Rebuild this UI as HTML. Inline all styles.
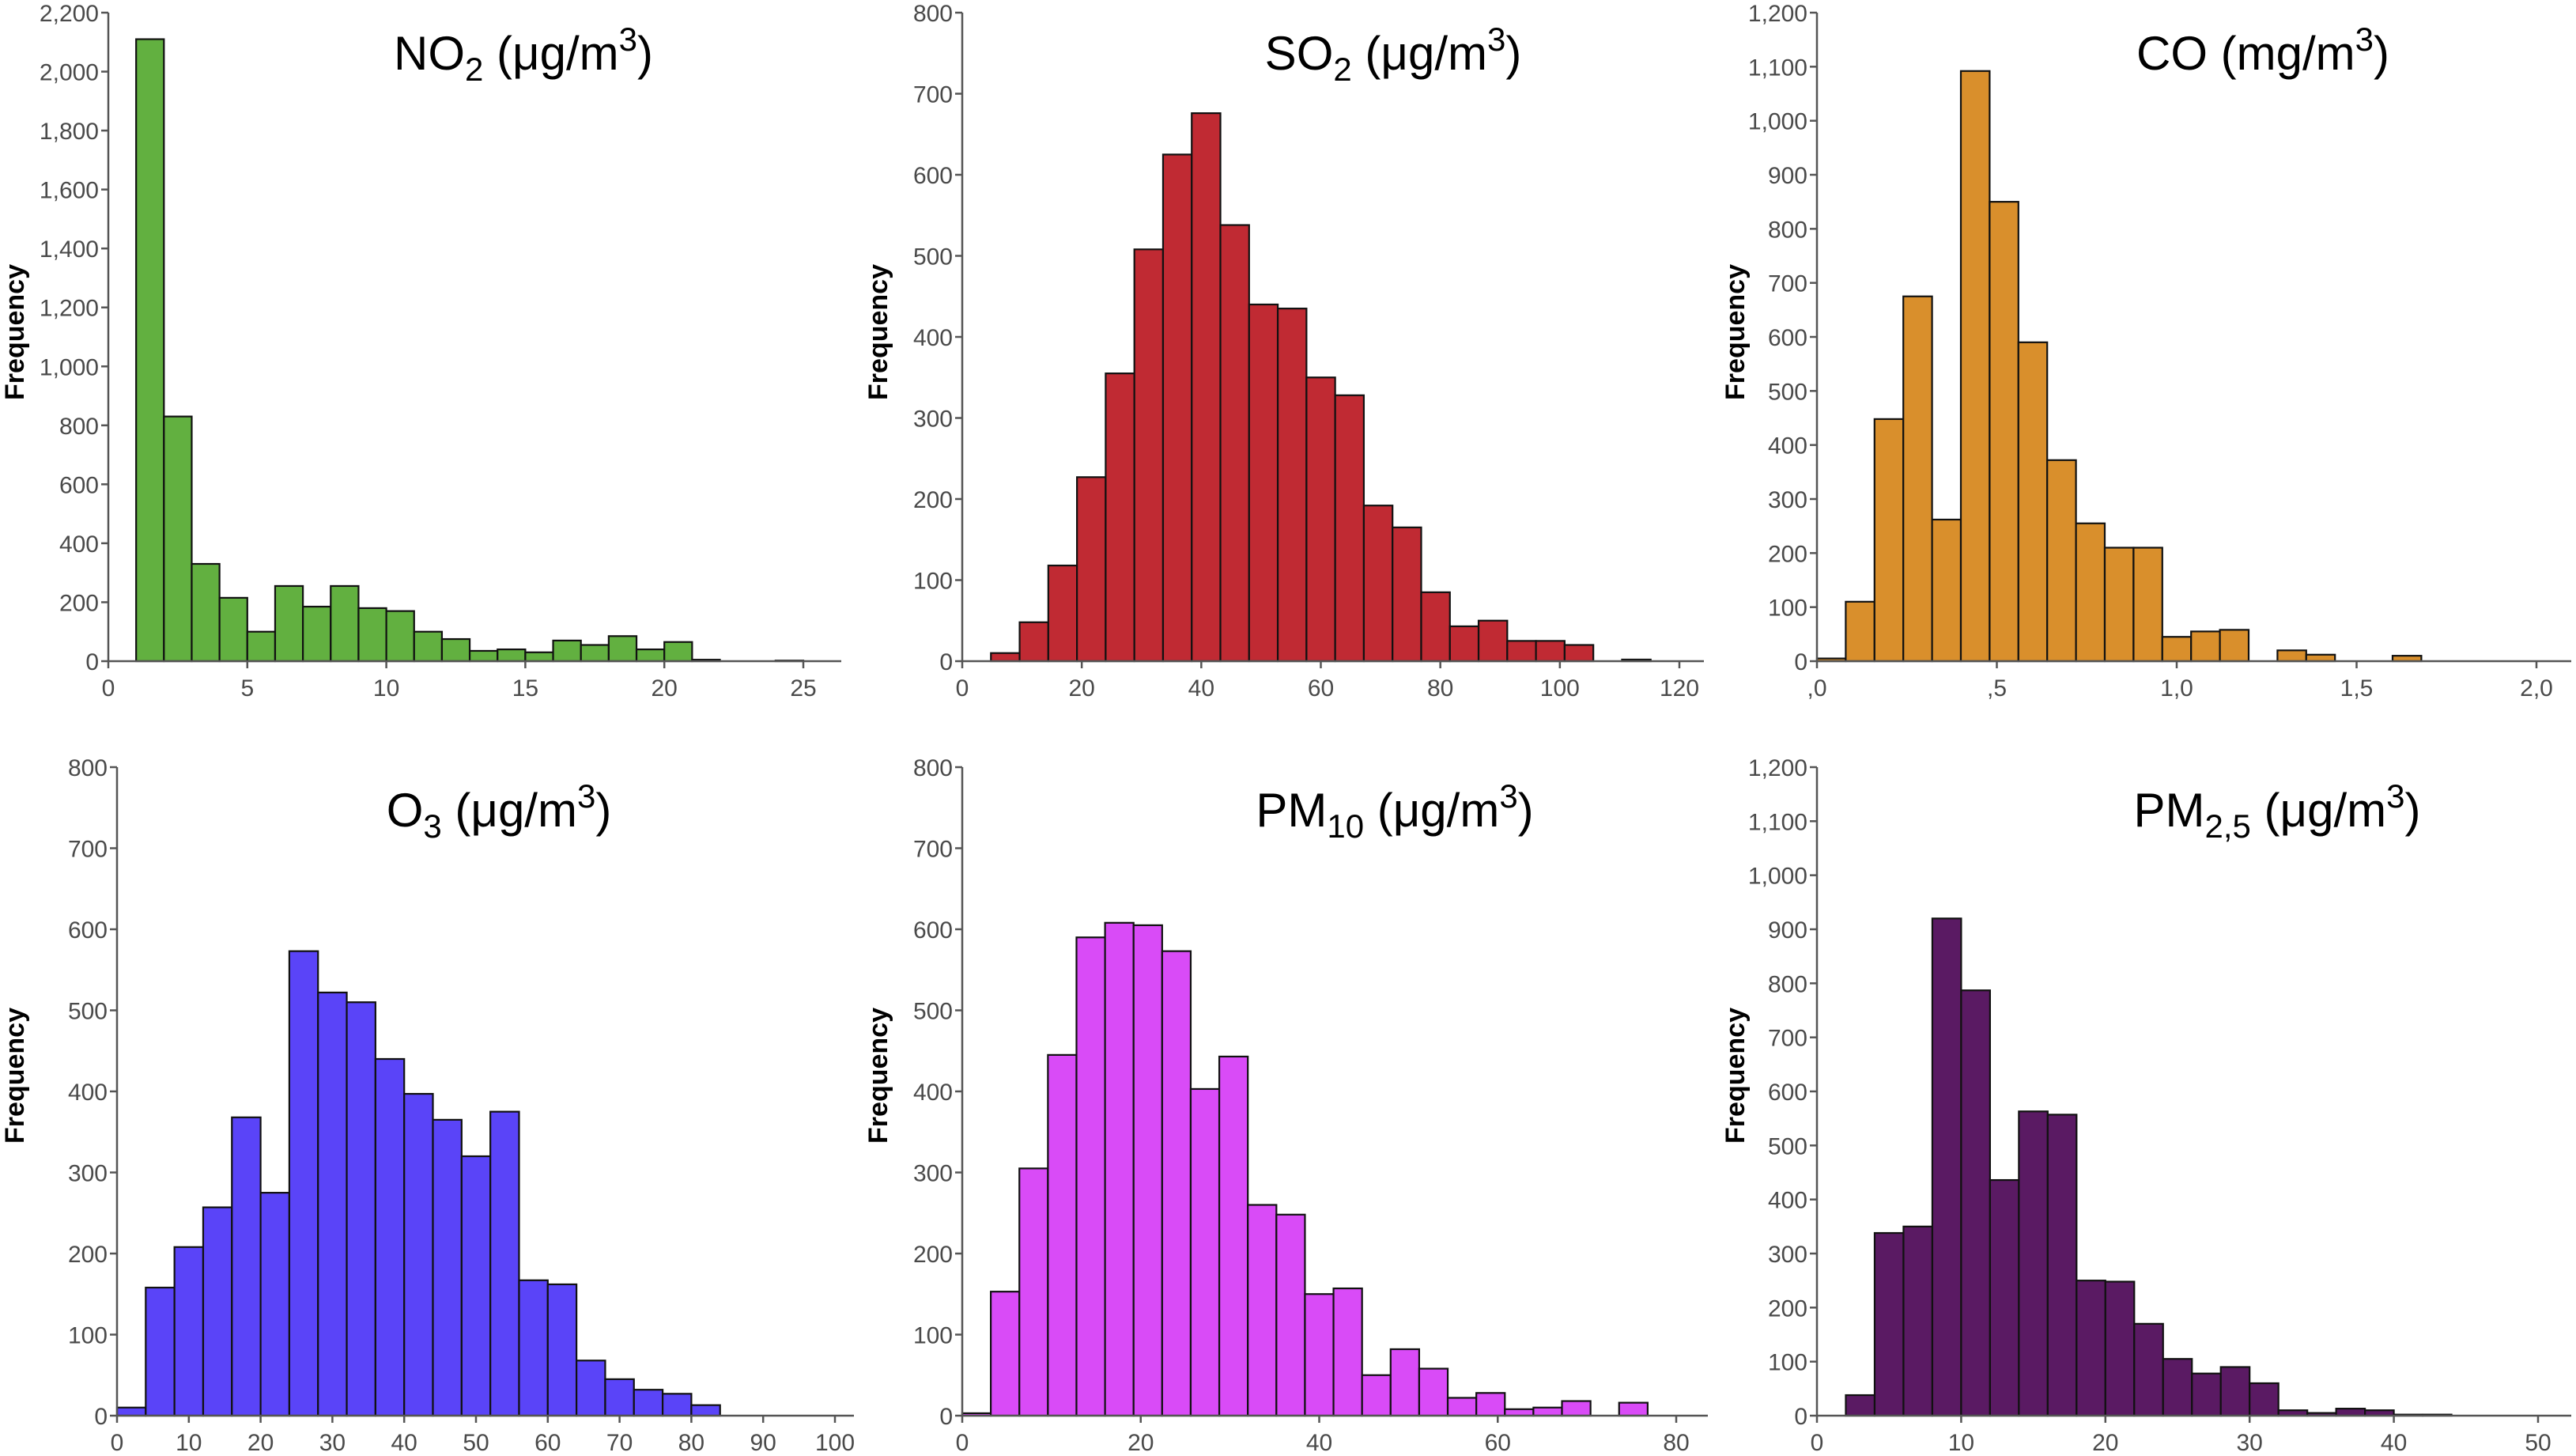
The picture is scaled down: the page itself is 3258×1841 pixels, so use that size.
<!DOCTYPE html>
<html><head><meta charset="utf-8"><style>
html,body{margin:0;padding:0;background:#fff}
svg{display:block}
.tk{font-family:"Liberation Sans",sans-serif;font-size:30px;fill:#4a4a4a}
.yl{font-family:"Liberation Sans",sans-serif;font-size:34px;font-weight:bold;fill:#000}
.tt{font-family:"Liberation Sans",sans-serif;font-size:60px;fill:#000}
</style></head><body>
<svg id="c" width="3258" height="1841" viewBox="0 0 3258 1841" xmlns="http://www.w3.org/2000/svg"></svg>
<script>
// NO2
const no2Start = 1, no2Width = 1;
const no2Counts = [2110,830,330,215,100,255,185,255,180,170,100,75,35,40,30,70,55,85,40,65,5,0,0,2];
const no2YTicks = [0,200,400,600,800,1000,1200,1400,1600,1800,2000,2200];
const no2XTicks = [0,5,10,15,20,25];
// SO2
const so2Start = 4.8, so2Width = 4.8;
const so2Counts = [10,48,118,227,355,508,625,676,538,440,435,350,328,192,165,85,43,50,25,25,20,0,2];
const so2YTicks = [0,100,200,300,400,500,600,700,800];
const so2XTicks = [0,20,40,60,80,100,120];
// CO
const coStart = 0, coWidth = 0.08;
const coCounts = [5,110,448,675,262,1092,850,590,372,255,210,210,45,55,58,0,20,12,0,0,10];
const coYTicks = [0,100,200,300,400,500,600,700,800,900,1000,1100,1200];
const coXTicks = [0,0.5,1.0,1.5,2.0];
const coXLabels = [",0",",5","1,0","1,5","2,0"];
// O3
const o3Start = 0, o3Width = 4;
const o3Counts = [10,158,208,257,368,275,573,522,510,440,397,365,320,375,167,162,68,45,32,27,13];
const o3YTicks = [0,100,200,300,400,500,600,700,800];
const o3XTicks = [0,10,20,30,40,50,60,70,80,90,100];
// PM10
const pm10Start = 0, pm10Width = 3.2;
const pm10Counts = [3,153,305,445,590,608,605,573,403,443,260,248,150,157,50,82,58,22,28,8,10,18,0,16];
const pm10YTicks = [0,100,200,300,400,500,600,700,800];
const pm10XTicks = [0,20,40,60,80];
// PM2.5
const pm25Start = 2, pm25Width = 2;
const pm25Counts = [38,338,350,920,787,436,563,557,250,248,170,105,78,90,60,10,5,13,10,2,2];
const pm25YTicks = [0,100,200,300,400,500,600,700,800,900,1000,1100,1200];
const pm25XTicks = [0,10,20,30,40,50];

const NS="http://www.w3.org/2000/svg";
const svg=document.getElementById('c');
function mk(tag,attrs,parent){const e=document.createElementNS(NS,tag);for(const k in attrs)e.setAttribute(k,attrs[k]);(parent||svg).appendChild(e);return e;}
function fmt(v){return v>=1000?Math.floor(v/1000)+','+String(v%1000).padStart(3,'0'):String(v);}

function panel(o){
  const g=mk('g',{});
  
  
  const xs=v=>o.ax+(v-o.xmin)*(o.xend-o.ax)/(o.xmaxTick-o.xmin);
  const ys=v=>o.y0-(v/o.ymax)*(o.y0-o.ytop);
  o.counts.forEach((c,i)=>{
    if(c<=0)return;
    const x1=xs(o.start+i*o.width),x2=xs(o.start+(i+1)*o.width);
    const r=mk('rect',{x:x1,y:ys(c),width:x2-x1,height:o.y0-ys(c),fill:o.color,stroke:'#111','stroke-width':2.2},g);
    
    
  });
  const ya=mk('line',{x1:o.ax,y1:o.ytop,x2:o.ax,y2:o.y0,stroke:'#555','stroke-width':2.5},g);
  
  
  const xa=mk('line',{x1:o.ax,y1:o.y0,x2:o.xright,y2:o.y0,stroke:'#555','stroke-width':2.5},g);
  
  
  o.yticks.forEach(v=>{
    const y=ys(v);
    mk('line',{x1:o.ax-9,y1:y,x2:o.ax,y2:y,stroke:'#555','stroke-width':2.5},g);
    const t=mk('text',{x:o.ax-12,y:y+11,'text-anchor':'end',class:'tk'},g);
    t.textContent=fmt(v);
    
    
  });
  o.xticks.forEach((v,i)=>{
    const x=xs(v);
    mk('line',{x1:x,y1:o.y0,x2:x,y2:o.y0+9,stroke:'#555','stroke-width':2.5},g);
    const t=mk('text',{x:x,y:o.y0+44,'text-anchor':'middle',class:'tk'},g);
    t.textContent=o.xlabels?o.xlabels[i]:String(v);
    
    
  });
  const yl=mk('text',{x:0,y:0,'text-anchor':'middle',class:'yl',transform:`translate(${o.ylx},${o.yly}) rotate(-90)`},g);
  yl.textContent='Frequency';
  
  
  const tt=mk('text',{x:o.tx,y:o.ty,'text-anchor':'middle',class:'tt'},g);
  
  
  const a=mk('tspan',{},tt);a.textContent=o.t1;
  if(o.sub){const s=mk('tspan',{dy:14,'font-size':42},tt);s.textContent=o.sub;}
  const b=mk('tspan',{dy:o.sub?-14:0},tt);b.textContent=o.t2;
  const s3=mk('tspan',{dy:-24,'font-size':42},tt);s3.textContent='3';
  const e=mk('tspan',{dy:24},tt);e.textContent=')';
}

panel({name:'no2',counts:no2Counts,start:no2Start,width:no2Width,yticks:no2YTicks,xticks:no2XTicks,ymax:2200,
 ax:137,y0:836,ytop:16,xmin:0,xmaxTick:25,xend:1016,xright:1064,color:'#62b040',ylx:30,yly:420,tx:662,ty:88,t1:'NO',sub:'2',t2:' (μg/m'});
panel({name:'so2',counts:so2Counts,start:so2Start,width:so2Width,yticks:so2YTicks,xticks:so2XTicks,ymax:800,
 ax:1217,y0:836,ytop:16,xmin:0,xmaxTick:120,xend:2124,xright:2155,color:'#c02a33',ylx:1122,yly:420,tx:1762,ty:88,t1:'SO',sub:'2',t2:' (μg/m'});
panel({name:'co',counts:coCounts,start:coStart,width:coWidth,yticks:coYTicks,xticks:coXTicks,xlabels:coXLabels,ymax:1200,
 ax:2298,y0:836,ytop:16,xmin:0,xmaxTick:2.0,xend:3208,xright:3252,color:'#d98f2c',ylx:2206,yly:420,tx:2862,ty:88,t1:'CO (mg/m',t2:''});
panel({name:'o3',counts:o3Counts,start:o3Start,width:o3Width,yticks:o3YTicks,xticks:o3XTicks,ymax:800,
 ax:148,y0:1790,ytop:970,xmin:0,xmaxTick:100,xend:1056,xright:1080,color:'#5a44f8',ylx:30,yly:1360,tx:631,ty:1045,t1:'O',sub:'3',t2:' (μg/m'});
panel({name:'pm10',counts:pm10Counts,start:pm10Start,width:pm10Width,yticks:pm10YTicks,xticks:pm10XTicks,ymax:800,
 ax:1217,y0:1790,ytop:970,xmin:0,xmaxTick:80,xend:2120,xright:2160,color:'#d94bf7',ylx:1122,yly:1360,tx:1764,ty:1045,t1:'PM',sub:'10',t2:' (μg/m'});
panel({name:'pm25',counts:pm25Counts,start:pm25Start,width:pm25Width,yticks:pm25YTicks,xticks:pm25XTicks,ymax:1200,
 ax:2298,y0:1790,ytop:970,xmin:0,xmaxTick:50,xend:3210,xright:3252,color:'#5a1a63',ylx:2206,yly:1360,tx:2880,ty:1045,t1:'PM',sub:'2,5',t2:' (μg/m'});
</script>
</body></html>
